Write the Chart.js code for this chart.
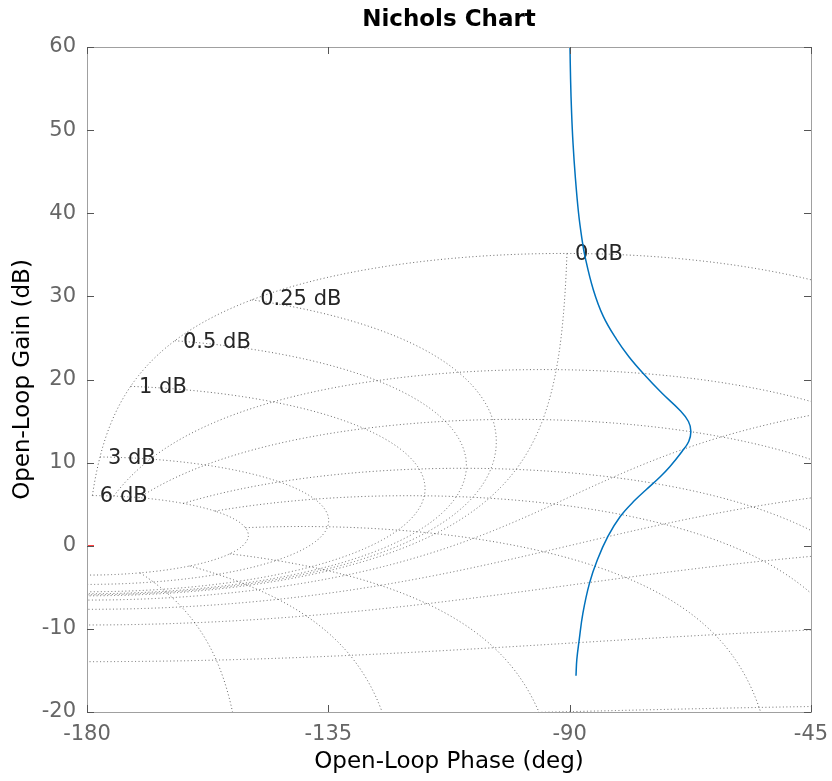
<!DOCTYPE html>
<html>
<head>
<meta charset="utf-8">
<script src="https://cdn.jsdelivr.net/npm/chart.js@4.4.0/dist/chart.umd.min.js"></script>
<style>
  html, body { margin: 0; padding: 0; background: #fff; }
</style>
</head>
<body>
<canvas id="myChart" width="832" height="781"></canvas>
<script>
// Open-loop response: phase (deg) and gain (dB)
const phase = [-89.94, -89.83, -89.64, -89.38, -88.95, -88.35, -87.74, -87.14, -85.59, -83.73,
               -81.23, -78.99, -76.36, -72.82, -69.55, -67.85, -67.4, -67.8, -69.05, -71.29,
               -73.06, -75.75, -77.76, -80.57, -82.87, -84.83, -86.3, -87.53, -88.22, -88.67,
               -88.82];
const gain = [60.03, 56.06, 52.09, 48.48, 44.39, 40.06, 37.05, 34.8, 30.8, 27.59,
              24.79, 22.77, 20.78, 18.37, 16.36, 14.95, 13.75, 12.55, 11.34, 9.54,
              8.34, 6.74, 5.53, 3.52, 1.12, -1.68, -4.49, -8.1, -11.31, -13.71,
              -15.64];

// Closed-loop magnitude (dB) and closed-loop phase (deg) grid levels
const clGain = [6, 3, 1, 0.5, 0.25, 0, -1, -3, -6, -12, -20, -40];
const clPhase = [-1, -5, -10, -20, -30, -50, -90, -120, -150, -180];

// Grid labels and where they sit (phase, gain)
const mLabels = ['0 dB', '0.25 dB', '0.5 dB', '1 dB', '3 dB', '6 dB'];
const mLabelPhase = [-89.0, -147.7, -162.1, -170.3, -176.1, -177.6];
const mLabelGain = [35.0, 29.6, 24.5, 19.0, 10.5, 5.9];

const phaseTicks = [-180, -135, -90, -45];
const gainTicks = [-20, -10, 0, 10, 20, 30, 40, 50, 60];

const FONT = 'DejaVu Sans';
const D2R = Math.PI / 180;

// open-loop point (phase, gain) for a closed-loop gain (dB) and phase (deg)
function openLoop(db, psi) {
    const M = Math.pow(10, db / 20);
    const a = M * Math.cos(psi * D2R), b = M * Math.sin(psi * D2R);
    const den = Math.hypot(1 - a, -b);
    let ph = psi - Math.atan2(-b, 1 - a) / D2R;
    while (ph > 0) ph -= 360;
    while (ph <= -360) ph += 360;
    return [ph, 20 * Math.log10(M / den)];
}

// constant closed-loop gain lines, over the closed-loop phase range
const psiFirst = clPhase[0], psiLast = clPhase[clPhase.length - 1];
const mLines = clGain.map(db => {
    const pts = [];
    for (let psi = psiFirst; psi >= psiLast; psi -= 0.05) pts.push(openLoop(db, psi));
    pts.push(openLoop(db, psiLast));
    return pts;
});

// constant closed-loop phase lines, from the top gain level downwards
const nLines = clPhase.filter(psi => psi > -180).map(psi => {
    const start = openLoop(clGain[0], psi)[0];
    const pts = [];
    for (let ph = start; ph < psi; ph += 0.2) {
        const r = Math.sin((ph - psi) * D2R) / Math.sin(psi * D2R);
        if (r > 0) pts.push([ph, Math.max(20 * Math.log10(r), -200)]);
    }
    return pts;
});

const gridCurves = mLines.concat(nLines);

const nicholsGrid = {
    id: 'nicholsGrid',
    beforeDatasetsDraw(chart) {
        const { ctx, chartArea: a, scales: { x, y } } = chart;
        ctx.save();
        ctx.beginPath();
        ctx.rect(a.left, a.top, a.right - a.left, a.bottom - a.top);
        ctx.clip();
        ctx.strokeStyle = 'rgba(50,50,50,0.75)';
        ctx.lineWidth = 1;
        ctx.setLineDash([1, 2.5]);
        gridCurves.forEach(curve => {
            ctx.beginPath();
            curve.forEach((p, i) => {
                const px = x.getPixelForValue(p[0]), py = y.getPixelForValue(p[1]);
                if (i === 0) ctx.moveTo(px, py); else ctx.lineTo(px, py);
            });
            ctx.stroke();
        });
        ctx.setLineDash([]);
        ctx.fillStyle = '#262626';
        ctx.font = '21px "' + FONT + '"';
        ctx.textAlign = 'left';
        ctx.textBaseline = 'middle';
        mLabels.forEach((t, i) => {
            ctx.fillText(t, x.getPixelForValue(mLabelPhase[i]), y.getPixelForValue(mLabelGain[i]));
        });
        ctx.restore();
    },
    afterDatasetsDraw(chart) {
        // axes box with inward ticks on all four sides
        const { ctx, chartArea: a, scales: { x, y } } = chart;
        ctx.save();
        ctx.strokeStyle = '#a0a0a0';
        ctx.lineWidth = 1;
        ctx.strokeRect(a.left + 0.5, a.top + 0.5, a.right - a.left, a.bottom - a.top);
        ctx.strokeStyle = '#555';
        ctx.beginPath();
        phaseTicks.forEach(v => {
            const px = Math.round(x.getPixelForValue(v)) + 0.5;
            ctx.moveTo(px, a.bottom); ctx.lineTo(px, a.bottom - 7);
            ctx.moveTo(px, a.top); ctx.lineTo(px, a.top + 7);
        });
        gainTicks.forEach(v => {
            const py = Math.round(y.getPixelForValue(v)) + 0.5;
            ctx.moveTo(a.left, py); ctx.lineTo(a.left + 7, py);
            ctx.moveTo(a.right, py); ctx.lineTo(a.right - 7, py);
        });
        ctx.stroke();
        ctx.restore();
    }
};

const ctx = document.getElementById('myChart').getContext('2d');

new Chart(ctx, {
    type: 'scatter',
    data: {
        datasets: [{
            label: 'Open loop',
            data: phase.map((p, i) => ({ x: p, y: gain[i] })),
            showLine: true,
            borderColor: '#0072BD',
            borderWidth: 1.5,
            pointRadius: 0,
            tension: 0.4,
        }, {
            label: 'Critical point',
            data: [{ x: -180, y: 0 }],
            pointStyle: 'cross',
            pointRadius: 7,
            borderColor: '#ff0000',
            borderWidth: 1,
            clip: 0,
        }]
    },
    options: {
        responsive: false,
        animation: false,
        layout: { padding: { top: 0, right: 21, bottom: 0, left: 0 } },
        plugins: {
            legend: { display: false },
            tooltip: { enabled: false },
            title: {
                display: true,
                text: 'Nichols Chart',
                fullSize: false,
                color: '#000',
                font: { family: FONT, size: 23, weight: 'bold' },
                padding: { top: 6.5, bottom: 12.9 }
            }
        },
        scales: {
            x: {
                type: 'linear',
                min: -180,
                max: -45,
                afterBuildTicks: s => { s.ticks = phaseTicks.map(v => ({ value: v })); },
                afterFit: s => { s.height = 69; s.paddingLeft = 0; s.paddingRight = 0; },
                grid: { display: false, drawTicks: false },
                border: { display: false },
                ticks: { color: '#666', font: { family: FONT, size: 21 }, padding: 10, maxRotation: 0, autoSkip: false },
                title: { display: true, text: 'Open-Loop Phase (deg)', color: '#000', font: { family: FONT, size: 23 }, padding: { top: 0, bottom: 4.7 } }
            },
            y: {
                type: 'linear',
                min: -20,
                max: 60,
                afterBuildTicks: s => { s.ticks = gainTicks.map(v => ({ value: v })); },
                afterFit: s => { s.width = 87; s.paddingTop = 0; s.paddingBottom = 0; },
                grid: { display: false, drawTicks: false },
                border: { display: false },
                ticks: { color: '#666', font: { family: FONT, size: 21 }, padding: 11, autoSkip: false },
                title: { display: true, text: 'Open-Loop Gain (dB)', color: '#000', font: { family: FONT, size: 23 }, padding: { top: 9.7, bottom: 0 } }
            }
        }
    },
    plugins: [nicholsGrid]
});
</script>
</body>
</html>
